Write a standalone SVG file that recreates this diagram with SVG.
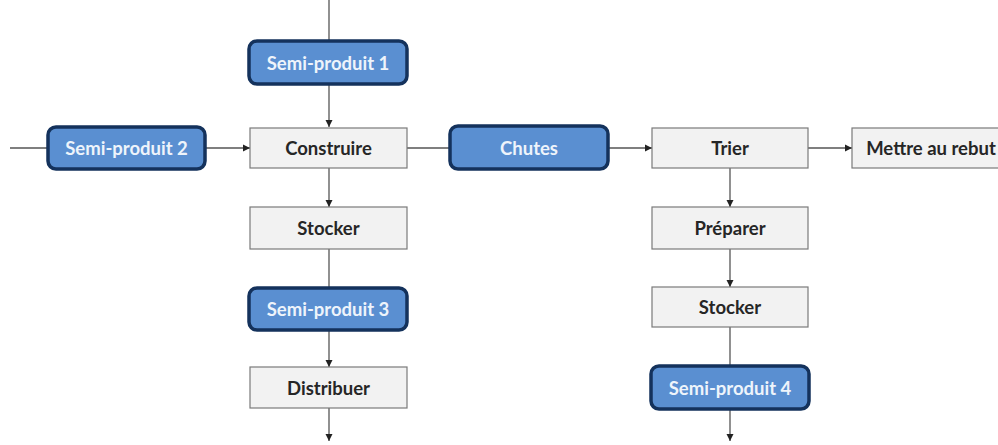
<svg xmlns="http://www.w3.org/2000/svg" width="998" height="445" viewBox="0 0 998 445">
<style>
.g rect{fill:#f2f2f2;stroke:#7a7a7a;stroke-width:1.2}
.b rect{fill:#5a8fd1;stroke:#14325c;stroke-width:3.5}
text{font-family:Lato,"Open Sans","Liberation Sans",sans-serif;font-weight:bold;font-size:18.5px;text-anchor:middle;dominant-baseline:central}
.g text{fill:#262626}
.b text{fill:#eef4fb}
.c line{stroke:#555;stroke-width:1.3}
</style>
<defs>
<marker id="ah" markerWidth="8" markerHeight="8" refX="7" refY="4" orient="auto" markerUnits="userSpaceOnUse">
<path d="M0,0.5 L7,4 L0,7.5 Z" fill="#222"/>
</marker>
</defs>
<rect width="998" height="445" fill="#fff"/>
<g class="c">
<line x1="329" y1="0" x2="329" y2="41"/>
<line x1="329" y1="84" x2="329" y2="127" marker-end="url(#ah)"/>
<line x1="10" y1="148" x2="48" y2="148"/>
<line x1="205" y1="148" x2="250" y2="148" marker-end="url(#ah)"/>
<line x1="407" y1="148" x2="450" y2="148"/>
<line x1="608" y1="148" x2="652" y2="148" marker-end="url(#ah)"/>
<line x1="808" y1="148" x2="852" y2="148" marker-end="url(#ah)"/>
<line x1="329" y1="168" x2="329" y2="207" marker-end="url(#ah)"/>
<line x1="329" y1="249" x2="329" y2="288"/>
<line x1="329" y1="330" x2="329" y2="367" marker-end="url(#ah)"/>
<line x1="329" y1="408" x2="329" y2="441" marker-end="url(#ah)"/>
<line x1="730" y1="168" x2="730" y2="207" marker-end="url(#ah)"/>
<line x1="730" y1="249" x2="730" y2="287" marker-end="url(#ah)"/>
<line x1="730" y1="327" x2="730" y2="366"/>
<line x1="730" y1="409" x2="730" y2="441" marker-end="url(#ah)"/>
</g>
<g id="sp1" class="b"><rect x="249" y="41" width="158" height="43" rx="8"/><text x="328" y="62.5">Semi-produit 1</text></g>
<g id="sp2" class="b"><rect x="48" y="127" width="157" height="42" rx="8"/><text x="126.5" y="148">Semi-produit 2</text></g>
<g id="construire" class="g"><rect x="250" y="128" width="157" height="40"/><text x="328.5" y="148">Construire</text></g>
<g id="chutes" class="b"><rect x="450" y="126" width="158" height="43" rx="8"/><text x="529" y="147.5">Chutes</text></g>
<g id="trier" class="g"><rect x="652" y="128" width="156" height="40"/><text x="730" y="148">Trier</text></g>
<g id="rebut" class="g"><rect x="852" y="128" width="160" height="40"/><text x="931" y="148">Mettre au rebut</text></g>
<g id="stocker1" class="g"><rect x="250" y="207" width="157" height="42"/><text x="328.5" y="228">Stocker</text></g>
<g id="sp3" class="b"><rect x="249" y="288" width="158" height="42" rx="8"/><text x="328" y="309">Semi-produit 3</text></g>
<g id="distribuer" class="g"><rect x="250" y="367" width="157" height="41"/><text x="328.5" y="387.5">Distribuer</text></g>
<g id="preparer" class="g"><rect x="652" y="207" width="156" height="42"/><text x="730" y="228">Préparer</text></g>
<g id="stocker2" class="g"><rect x="652" y="287" width="156" height="40"/><text x="730" y="307">Stocker</text></g>
<g id="sp4" class="b"><rect x="651" y="366" width="158" height="43" rx="8"/><text x="730" y="387.5">Semi-produit 4</text></g>
</svg>
